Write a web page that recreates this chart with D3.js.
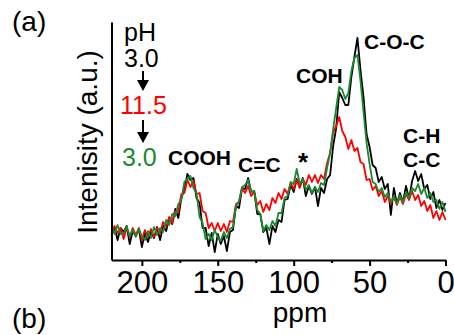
<!DOCTYPE html>
<html><head><meta charset="utf-8">
<script src="https://cdn.jsdelivr.net/npm/d3@7/dist/d3.min.js"></script>
<style>
html,body{margin:0;padding:0;background:#fff;}
svg{display:block;font-family:"Liberation Sans",Arial,sans-serif;}
</style></head>
<body>
<svg id="chart" width="454" height="335"></svg>
<script>
// ppm positions, 220 → 0 in steps of 2
const ppm = d3.range(220, -1, -2);
// pH 3.0 (black)
const black = [25,33,20,32,28,34,16,29,24,31,
13,27,18,28,22,33,20,34,29,42,
36,51,42,62,70,86,80,82,62,57,
32,32,14,27,8,26,16,24,9,28,
30,54,52,72,71,82,68,69,46,46,
28,32,16,34,28,40,38,60,61,75,
68,81,73,82,64,74,66,73,54,72,
67,81,85,114,132,168,162,155,155,183,
203,222,190,163,126,113,95,92,78,83,
71,76,45,72,56,67,58,74,61,79,
89,79,86,71,75,61,68,52,60,50,57];
// pH 11.5 (red)
const red = [24,34,27,32,21,32,23,32,25,32,
20,30,23,31,23,32,27,38,33,43,
37,49,48,66,67,80,73,79,66,67,
49,47,32,37,29,37,29,36,28,39,
38,56,58,72,67,74,64,68,55,59,
48,56,50,62,57,67,61,71,66,77,
71,80,72,81,75,85,78,85,77,85,
81,97,107,128,134,143,129,123,111,120,
109,112,98,96,80,81,70,74,64,69,
58,64,56,63,55,63,56,66,60,69,
60,65,54,59,49,55,42,49,40,48,40];
// back to pH 3.0 (green)
const green = [33,26,35,26,26,34,24,30,23,31,
24,20,29,22,33,25,32,28,40,35,
46,44,56,60,78,81,84,72,67,43,
37,21,26,20,30,23,19,28,22,31,
33,54,59,73,75,80,68,69,50,46,
29,35,30,39,34,47,47,62,64,78,
76,91,76,81,70,75,67,73,68,77,
75,92,107,131,152,173,170,161,167,189,
202,205,179,148,117,96,78,76,68,72,
63,67,58,64,56,65,58,68,62,72,
69,76,66,72,62,67,58,60,51,58,48];

const majorTicks = [200, 150, 100, 50, 0];
const minorTicks = [175, 125, 75, 25];
const legendItems = [
  {text: "pH", color: "#000", x: 124, y: 41},
  {text: "3.0", color: "#000", x: 124, y: 67},
  {text: "11.5", color: "#ff0000", x: 120, y: 114},
  {text: "3.0", color: "#1a8a30", x: 122, y: 166}
];
const peakLabels = [
  {text: "COOH", x: 168, y: 165},
  {text: "C=C", x: 238, y: 172},
  {text: "COH", x: 296, y: 83},
  {text: "C-O-C", x: 364, y: 49},
  {text: "C-H", x: 403, y: 143},
  {text: "C-C", x: 403, y: 167}
];

const svg = d3.select("#chart");
const x = d3.scaleLinear().domain([220, 0]).range([111.5, 445.5]);
const y = d3.scaleLinear().domain([0, 238]).range([260, 22]);

const line = d3.line().x((d, i) => x(ppm[i])).y(d => y(d));

[[black, "#000"], [red, "#ff0000"], [green, "#1a8a30"]].forEach(([s, c]) => {
  svg.append("path").datum(s).attr("fill", "none").attr("stroke", c)
    .attr("stroke-width", 1.8).attr("stroke-linejoin", "round").attr("d", line);
});

// left axis (line only)
const ya = svg.append("g").attr("transform", "translate(111.5,0)")
  .call(d3.axisLeft(y).tickValues([]).tickSizeOuter(0));
ya.select(".domain").attr("stroke", "#000").attr("stroke-width", 2);

// bottom axis
const xa = svg.append("g").attr("transform", "translate(0,260)")
  .call(d3.axisBottom(x).tickValues(majorTicks).tickSize(6).tickSizeOuter(0).tickPadding(5).tickFormat(d3.format("d")));
xa.select(".domain").attr("stroke", "#000").attr("stroke-width", 2);
xa.selectAll(".tick line").attr("stroke", "#000").attr("stroke-width", 2);
xa.selectAll(".tick text").attr("font-size", 31).attr("fill", "#000")
  .attr("font-family", "Liberation Sans, Arial, sans-serif").attr("dy", "0.72em");
const xm = svg.append("g").attr("transform", "translate(0,260)")
  .call(d3.axisBottom(x).tickValues(minorTicks).tickSize(3).tickSizeOuter(0).tickFormat(""));
xm.select(".domain").remove();
xm.selectAll(".tick line").attr("stroke", "#000").attr("stroke-width", 2);

// axis titles
svg.append("text").attr("x", 300).attr("y", 322).attr("text-anchor", "middle")
  .attr("font-size", 28).text("ppm");
svg.append("text").attr("transform", "translate(97,142) rotate(-90)")
  .attr("text-anchor", "middle").attr("font-size", 28).text("Intenisity (a.u.)");

// panel letters
svg.append("text").attr("x", 12).attr("y", 31).attr("font-size", 28).text("(a)");
svg.append("text").attr("x", 12).attr("y", 328).attr("font-size", 28).text("(b)");

// legend
legendItems.forEach(d => {
  svg.append("text").attr("x", d.x).attr("y", d.y).attr("font-size", 25)
    .attr("fill", d.color).text(d.text);
});
function arrow(x0, y0, y1) {
  svg.append("line").attr("x1", x0).attr("x2", x0).attr("y1", y0).attr("y2", y1 - 8)
    .attr("stroke", "#000").attr("stroke-width", 2);
  svg.append("path").attr("d", `M${x0-6},${y1-11}L${x0+6},${y1-11}L${x0},${y1}Z`).attr("fill", "#000");
}
arrow(143, 71, 91);
arrow(143, 120, 143);

// peak labels
peakLabels.forEach(d => {
  svg.append("text").attr("x", d.x).attr("y", d.y).attr("font-size", 21)
    .attr("font-weight", "bold").text(d.text);
});
svg.append("text").attr("x", 303).attr("y", 171).attr("text-anchor", "middle")
  .attr("font-size", 26).attr("font-weight", "bold").text("*");
</script>
</body></html>
